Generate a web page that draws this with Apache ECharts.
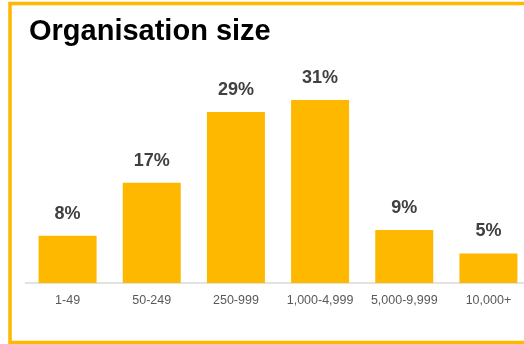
<!DOCTYPE html>
<html>
<head>
<meta charset="utf-8">
<style>
  html, body { margin: 0; padding: 0; background: #ffffff; }
  #chart { width: 524px; height: 344px; }
</style>
<script src="https://cdn.jsdelivr.net/npm/echarts@6/dist/echarts.min.js"></script>
</head>
<body>
<div id="chart"></div>
<script>
// Share of respondents by organisation size (number of employees)
const categories = ['1-49', '50-249', '250-999', '1,000-4,999', '5,000-9,999', '10,000+'];
const shares = [8, 17, 29, 31, 9, 5];

const accent = '#FFB800';

const chart = echarts.init(document.getElementById('chart'), null, { renderer: 'canvas' });

chart.setOption({
  animation: false,
  backgroundColor: '#ffffff',
  title: {
    text: 'Organisation size',
    left: 29,
    top: 17,
    padding: 0,
    textStyle: {
      fontFamily: 'Liberation Sans, Arial, sans-serif',
      fontSize: 29,
      fontWeight: 'bold',
      color: '#000000'
    }
  },
  graphic: [{
    type: 'rect',
    silent: true,
    z: 100,
    shape: { x: 10, y: 3.5, width: 600, height: 339 },
    style: { fill: 'none', stroke: accent, lineWidth: 3.5 }
  }],
  // the plot runs a little past the right edge of the frame
  grid: {
    left: 25.5, width: 505, top: 76.5, bottom: 61,
    containLabel: false,
    outerBoundsMode: 'none'
  },
  xAxis: {
    type: 'category',
    data: categories,
    axisLine: { show: true, lineStyle: { color: '#d9d9d9', width: 1.5 } },
    axisTick: { show: false },
    axisLabel: {
      margin: 11,
      fontFamily: 'Liberation Sans, Arial, sans-serif',
      fontSize: 12.5,
      color: '#595959',
      interval: 0
    }
  },
  yAxis: {
    type: 'value',
    min: 0,
    max: 35,
    show: false,
    splitLine: { show: false }
  },
  series: [{
    type: 'bar',
    data: shares,
    barWidth: 58,
    itemStyle: { color: accent },
    label: {
      show: true,
      position: 'top',
      distance: 13,
      formatter: '{c}%',
      fontFamily: 'Liberation Sans, Arial, sans-serif',
      fontSize: 18,
      fontWeight: 'bold',
      color: '#404040'
    }
  }]
});
</script>
</body>
</html>
